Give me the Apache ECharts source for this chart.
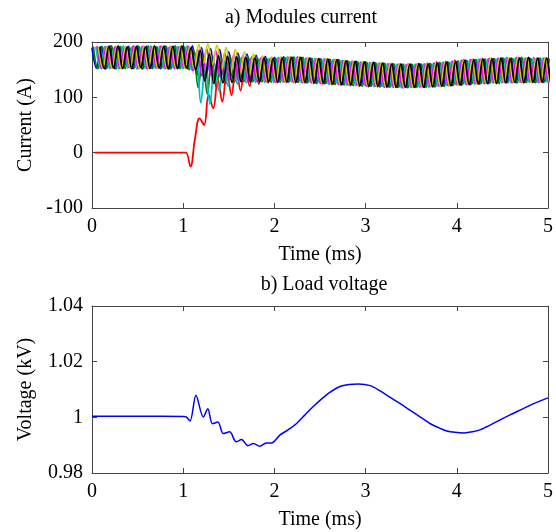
<!DOCTYPE html>
<html>
<head>
<meta charset="utf-8">
<script src="https://cdn.jsdelivr.net/npm/echarts@6/dist/echarts.min.js"></script>
<style>html,body{margin:0;padding:0;background:#fff}#c{width:556px;height:532px}</style>
</head>
<body>
<div id="c"></div>
<script>
// ---- Data ----
const xTicks = [0, 1, 2, 3, 4, 5];
const currentTicks = [-100, 0, 100, 200];
const voltageTicks = [0.98, 1.0, 1.02, 1.04];

const moduleNames = ['Module 1', 'Module 2', 'Module 3', 'Module 4', 'Module 5', 'Module 6', 'Module 7'];
const moduleColors = ['#0000ff', '#008000', '#ff0000', '#00bfbf', '#ff00ff', '#cccc00', '#000000'];
const sampleStep = 0.05;                 // ms between consecutive peak / trough samples
const phaseStart = [0, 0.014, 0.029, 0.043, 0.057, 0.071, 0.086]; // ms, first sample time of each module

const mod1 = [190,153,192,151,193,152,191,154,192,152,193,151,192,153,191,152,193,152,192,153,192,
  152,193,140,190,135,188,132,186,135,182,133,180,132,178,130,176,130,174,129,
  172,128,173,127,172,127,172,126,171,126, 170,125,169,124,168,123,166,122,165,121,
  164,120,163,119,162,119,161,118,160,118, 160,118,160,118,161,119,162,120,164,121,
  165,122,167,123,168,124,169,125,170,126, 171,126,171,126,171,127,171,127,171,127,171];
const mod2 = [192,152,191,153,193,151,192,152,190,153,192,152,193,152,191,153,192,151,193,152,191,
  150,185,118,175,106,170,118,172,124,174,128,173,128,172,128,171,128,171,127,
  171,127,172,128,173,127,172,126,170,125, 169,125,168,123,167,122,165,121,164,120,
  163,120,162,119,161,118,160,118,160,117, 159,118,160,118,161,119,163,120,163,122,
  166,123,166,124,168,125,169,126,170,125, 171,127,170,126,172,127,170,126,171,128,170];
const mod3 = [0,0,0,0,0,0,0,0,0,0,0,0,0,0,0,0,0,0,0,0,0,
  -25,25,62,50,105,80,132,92,148,104,158,112,163,120,166,124,168,126,170,
  127,172,127,173,126,172,126,171,125,170, 124,169,123,167,122,166,121,164,120,163,
  119,162,119,161,118,160,118,160,118,160, 119,161,119,162,120,164,121,165,122,167,
  123,168,124,169,125,170,126,171,126,171, 127,171,127,172,127,171,127,171,128,171,127];
const mod4 = [191,153,192,152,190,152,193,153,192,151,191,152,193,153,192,152,190,153,192,152,193,
  150,180,90,160,88,162,112,168,120,170,124,172,126,171,127,170,127,170,127,
  172,128,173,128,172,127,171,127,170,126, 170,124,168,124,167,122,165,121,164,121,
  163,119,162,119,161,118,160,117,159,118, 160,118,161,118,162,120,163,121,165,122,
  166,124,168,124,169,125,170,126,170,126, 172,126,171,127,171,127,172,126,171,127,172];
const mod5 = [193,152,191,153,192,152,190,154,193,152,192,151,191,153,193,152,192,152,191,153,192,
  148,186,138,188,140,184,136,180,132,178,130,176,130,174,129,172,128,171,127,
  171,127,172,127,173,126,171,126,170,125, 169,124,168,123,166,122,165,122,163,120,
  162,120,162,118,161,118,160,117,160,118, 160,119,160,119,162,120,163,121,165,123,
  167,123,168,125,169,125,170,126,171,127, 171,126,172,127,171,128,170,127,171,127,171];
const mod6 = [192,153,193,152,191,152,192,153,190,152,193,153,192,152,191,152,193,153,192,152,191,
  152,195,162,196,160,194,150,190,145,186,140,182,136,178,133,175,130,173,129,
  173,128,174,128,173,127,172,127,171,126, 170,125,169,124,167,123,166,122,165,121,
  164,120,163,119,162,119,161,118,161,118, 160,118,161,119,162,119,163,120,164,122,
  166,123,167,124,168,125,170,126,171,126, 171,127,172,127,171,126,171,127,172,127,171];
const mod7 = [191,152,192,153,193,152,191,152,192,154,191,152,193,153,192,151,192,152,193,153,190,
  150,185,130,178,125,175,126,174,127,173,128,172,128,171,128,171,128,170,127,
  171,128,172,127,172,127,171,126,170,126, 169,124,168,123,166,123,165,121,164,120,
  163,120,162,119,160,118,160,118,160,118, 161,118,160,119,162,120,163,121,164,122,
  166,123,167,124,169,125,169,125,171,126, 170,127,171,126,172,127,171,127,171,126,171];
const moduleValues = [mod1, mod2, mod3, mod4, mod5, mod6, mod7];

const voltTime = [0, 0.5, 1.0, 1.03, 1.075, 1.14, 1.22, 1.27, 1.32, 1.38, 1.44, 1.51, 1.58, 1.64, 1.71, 1.77, 1.84, 1.91, 1.97, 2.06, 2.15, 2.24, 2.33, 2.42, 2.5, 2.6, 2.72, 2.82, 2.92, 3.05, 3.16, 3.27, 3.38, 3.49, 3.6, 3.71, 3.8, 3.89, 3.98, 4.08, 4.17, 4.26, 4.37, 4.48, 4.59, 4.70, 4.85, 5.0];
const voltValue = [1.0004, 1.0004, 1.0003, 1.0002, 0.9987, 1.0079, 1.0001, 1.0031, 0.9977, 0.9983, 0.9942, 0.9948, 0.9912, 0.9920, 0.9898, 0.9906, 0.9896, 0.9908, 0.9908, 0.9936, 0.9955, 0.9977, 1.0007, 1.0037, 1.0061, 1.0088, 1.0111, 1.0118, 1.0120, 1.0114, 1.0095, 1.0072, 1.0049, 1.0025, 1.0001, 0.9977, 0.9963, 0.9951, 0.9946, 0.9944, 0.9948, 0.9956, 0.9973, 0.9992, 1.0010, 1.0027, 1.0050, 1.0070];

// ---- Chart ----
const FONT = 'Liberation Serif';
const axisColor = '#444';
const labelStyle = { fontFamily: FONT, fontSize: 20, color: '#000' };

function xAx(gridIndex, pos, labels) {
  return {
    type: 'value', gridIndex, position: pos, min: xTicks[0], max: xTicks[xTicks.length - 1], interval: 1,
    axisLine: { show: true, onZero: false, lineStyle: { color: axisColor, width: 1 } },
    axisTick: { show: true, inside: true, length: 5, lineStyle: { color: axisColor } },
    axisLabel: Object.assign({ show: labels, margin: 9 }, labelStyle),
    splitLine: { show: false },
    name: labels ? 'Time (ms)' : '', nameLocation: 'middle', nameGap: 37,
    nameTextStyle: labelStyle
  };
}
function yAx(gridIndex, pos, labels, ticks, name, gap) {
  return {
    type: 'value', gridIndex, position: pos, min: ticks[0], max: ticks[ticks.length - 1],
    interval: Math.round((ticks[1] - ticks[0]) * 1000) / 1000,
    axisLine: { show: true, onZero: false, lineStyle: { color: axisColor, width: 1 } },
    axisTick: { show: true, inside: true, length: 5, lineStyle: { color: axisColor } },
    axisLabel: Object.assign({ show: labels, margin: 9,
      formatter: v => String(Math.round(v * 1000) / 1000) }, labelStyle),
    splitLine: { show: false },
    name: labels ? name : '', nameLocation: 'middle', nameGap: gap,
    nameTextStyle: labelStyle
  };
}

const series = moduleValues.map((vals, k) => ({
  name: moduleNames[k], type: 'line', xAxisIndex: 0, yAxisIndex: 0,
  data: vals.map((v, i) => [phaseStart[k] + sampleStep * i, v]),
  showSymbol: false, symbol: 'none', animation: false, clip: true, smooth: 0.4,
  lineStyle: { color: moduleColors[k], width: 1.8 }
}));
series.push({
  name: 'Load voltage', type: 'line', xAxisIndex: 2, yAxisIndex: 2,
  data: voltTime.map((t, i) => [t, voltValue[i]]),
  showSymbol: false, symbol: 'none', animation: false, clip: true, smooth: 0.3,
  lineStyle: { color: '#0000ff', width: 1.5 }
});

const chart = echarts.init(document.getElementById('c'), null, { renderer: 'canvas' });
chart.setOption({
  animation: false,
  backgroundColor: '#fff',
  title: [
    { text: 'a) Modules current', left: 296, top: 3, textAlign: 'center', textStyle: Object.assign({ fontWeight: 'normal' }, labelStyle) },
    { text: 'b) Load voltage', left: 319, top: 270, textAlign: 'center', textStyle: Object.assign({ fontWeight: 'normal' }, labelStyle) }
  ],
  grid: [
    { left: 92, top: 42, width: 456, height: 166 },
    { left: 92, top: 306, width: 456, height: 167 }
  ],
  xAxis: [xAx(0, 'bottom', true), xAx(0, 'top', false), xAx(1, 'bottom', true), xAx(1, 'top', false)],
  yAxis: [
    yAx(0, 'left', true, currentTicks, 'Current (A)', 56),
    yAx(0, 'right', false, currentTicks, '', 0),
    yAx(1, 'left', true, voltageTicks, 'Voltage (kV)', 56),
    yAx(1, 'right', false, voltageTicks, '', 0)
  ],
  series
});
</script>
</body>
</html>
